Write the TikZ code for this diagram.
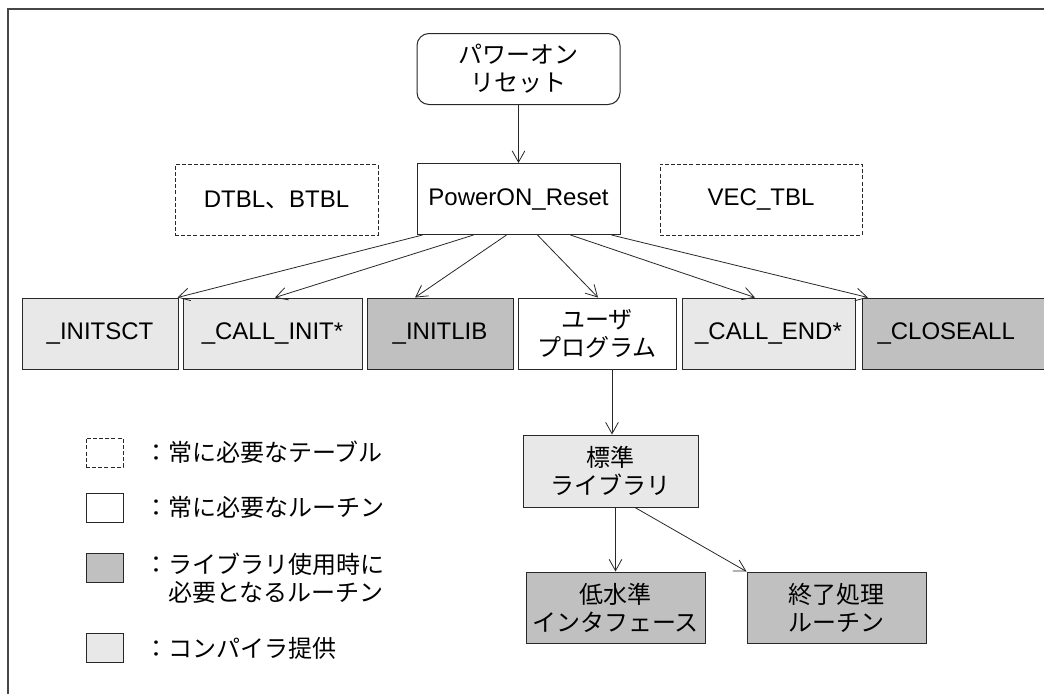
\documentclass[tikz,border=0pt]{standalone}
\usepackage{fontspec}
\setmainfont{Liberation Sans}
\newfontfamily\jp[Scale=1.0]{Noto Sans CJK JP}
\usetikzlibrary{arrows.meta}
\definecolor{lightfill}{RGB}{232,232,232}
\definecolor{darkfill}{RGB}{192,192,192}
\definecolor{edge}{RGB}{40,40,40}
\definecolor{framec}{RGB}{70,70,70}
\tikzset{
  box/.style={draw=edge, line width=0.75pt, rectangle, inner sep=0pt, align=center,
    font=\fontsize{18}{21}\selectfont},
  dbox/.style={box, dash pattern=on 3pt off 1.6pt, line width=0.6pt},
  lfill/.style={fill=lightfill},
  dfill/.style={fill=darkfill},
  arr/.style={draw=edge, line width=0.6pt, -{Straight Barb[length=8.5pt,width=9.5pt]}},
  legtext/.style={anchor=west, inner sep=0pt, align=left, font=\fontsize{18}{21}\selectfont\jp},
  legbox/.style={draw=edge, line width=0.75pt, rectangle, inner sep=0pt,
    minimum width=37*0.75pt, minimum height=29*0.75pt}
}
\begin{document}
\begin{tikzpicture}[x=0.75pt,y=-0.75pt]
\useasboundingbox (0,0) rectangle (1044,693);
\clip (0,0) rectangle (1044,693);
\fill[white] (0,0) rectangle (1044,693);
\draw[framec, line width=1.2pt] (8,700) -- (8,9) -- (1050,9);

\node[box, rounded corners=9pt, minimum width=203*0.75pt, minimum height=71*0.75pt] (pwr) at (518.5,69) {\jp パワーオン\\\jp リセット};
\node[box, fill=white, minimum width=203*0.75pt, minimum height=71*0.75pt] (reset) at (518.5,199) {PowerON\_Reset};
\node[dbox, minimum width=203*0.75pt, minimum height=71*0.75pt] (dtbl) at (276.5,200) {DTBL{\jp 、}BTBL};
\node[dbox, minimum width=202*0.75pt, minimum height=71*0.75pt] (vec) at (761,199.5) {VEC\_TBL};

\node[box, lfill, minimum width=156*0.75pt, minimum height=71*0.75pt] (initsct) at (100,333.5) {\_INITSCT};
\node[box, lfill, minimum width=179*0.75pt, minimum height=71*0.75pt] (callinit) at (272.5,333.5) {\_CALL\_INIT*};
\node[box, dfill, minimum width=146*0.75pt, minimum height=71*0.75pt] (initlib) at (440,333.5) {\_INITLIB};
\node[box, fill=white, minimum width=158*0.75pt, minimum height=71*0.75pt] (user) at (597,333.5) {\jp ユーザ\\\jp プログラム};
\node[box, lfill, minimum width=173*0.75pt, minimum height=71*0.75pt] (callend) at (768.5,333.5) {\_CALL\_END*};
\node[box, dfill, anchor=west, minimum height=71*0.75pt, text width=160*0.75pt, inner xsep=15*0.75pt, align=left] (closeall) at (862,333.5) {\_CLOSEALL};

\node[box, lfill, minimum width=175*0.75pt, minimum height=72*0.75pt] (std) at (610.5,471) {\jp 標準\\\jp ライブラリ};
\node[box, dfill, minimum width=179*0.75pt, minimum height=71*0.75pt] (low) at (615.5,607.5) {\jp 低水準\\\jp インタフェース};
\node[box, dfill, minimum width=179*0.75pt, minimum height=71*0.75pt] (fin) at (836.5,607.5) {\jp 終了処理\\\jp ルーチン};

\draw[arr] (pwr) -- (reset);
\draw[arr] ([xshift=6*0.75pt]reset.south west) -- ([xshift=-1*0.75pt]initsct.north east);
\draw[arr] ([xshift=57*0.75pt]reset.south west) -- ([xshift=2.5*0.75pt]callinit.north);
\draw[arr] ([xshift=90*0.75pt]reset.south west) -- ([xshift=-25*0.75pt]initlib.north);
\draw[arr] ([xshift=121*0.75pt]reset.south west) -- ([xshift=1*0.75pt]user.north);
\draw[arr] ([xshift=154*0.75pt]reset.south west) -- ([xshift=-13.5*0.75pt]callend.north);
\draw[arr] ([xshift=195*0.75pt]reset.south west) -- ([xshift=6*0.75pt]closeall.north west);
\draw[arr] ([xshift=15*0.75pt]user.south) -- ([xshift=1.5*0.75pt]std.north);
\draw[arr] (low.north |- std.south) -- (low.north);
\draw[arr] ([xshift=24.5*0.75pt]std.south) -- (fin.north west);

\node[legbox, dbox, minimum width=37*0.75pt, minimum height=29*0.75pt] (l1) at (104.5,452.5) {};
\node[legbox] (l2) at (104.5,507.5) {};
\node[legbox, dfill] (l3) at (104.5,568) {};
\node[legbox, lfill] (l4) at (104.5,648) {};
\node[legtext] (t1) at (144,452.5) {：常に必要なテーブル};
\node[legtext] (t2) at (144,507.5) {：常に必要なルーチン};
\node[legtext, anchor=north west] (t3) at (144,553) {：ライブラリ使用時に\\　必要となるルーチン};
\node[legtext] (t4) at (144,648) {：コンパイラ提供};
\end{tikzpicture}
\end{document}
